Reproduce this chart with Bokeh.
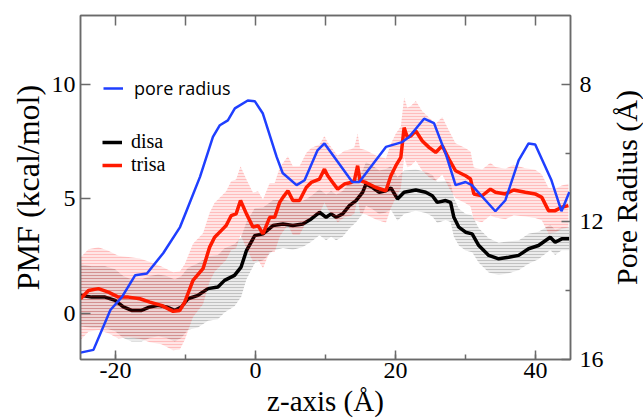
import numpy as np
from bokeh.plotting import figure
from bokeh.layouts import row
from bokeh.models import (Range1d, LinearAxis, SingleIntervalTicker, FixedTicker,
                          Legend, LegendItem, CustomJSTickFormatter)
from bokeh.embed import file_html
from bokeh.resources import INLINE

# ---------------- data ----------------
trisa_z = [-25.0, -23.86, -22.44, -21.02, -19.59, -18.17, -16.51, -15.09, -13.44, -11.77,
           -10.82, -10.11, -8.93, -7.50, -6.55, -5.84, -4.90, -4.19, -3.48, -2.77,
           -2.14, -1.29, -0.35, 0.36, 1.07, 2.03, 2.74, 3.45, 3.92, 4.63,
           5.34, 6.29, 7.25, 7.96, 9.14, 9.85, 10.32, 11.03, 11.74, 12.70,
           13.65, 14.12, 14.59, 14.93, 15.78, 17.21, 18.63, 19.34, 20.05, 20.76,
           21.23, 21.70, 22.18, 22.90, 23.83, 24.79, 25.74, 26.68, 27.63, 28.58,
           30.01, 30.72, 31.19, 32.37, 33.56, 34.27, 35.70, 36.88, 38.54, 39.96,
           40.90, 41.86, 42.81, 43.75, 44.70]
trisa_pmf = [0.65, 1.01, 1.09, 0.94, 0.72, 0.72, 0.65, 0.50, 0.36, 0.10,
             0.14, 0.50, 1.45, 1.96, 2.90, 3.33, 3.62, 3.84, 4.27, 4.35,
             4.93, 4.35, 3.77, 3.84, 3.48, 4.20, 4.20, 4.85, 5.07, 5.36,
             4.93, 4.93, 5.50, 5.72, 5.87, 6.30, 6.01, 5.72, 5.43, 5.65,
             5.72, 5.80, 6.45, 5.80, 5.72, 5.50, 5.36, 6.01, 6.45, 6.81,
             8.11, 7.68, 7.75, 7.97, 7.53, 7.25, 7.03, 7.32, 6.74, 6.23,
             6.01, 5.87, 5.22, 5.14, 5.43, 5.29, 5.22, 5.39, 5.29, 5.22,
             5.07, 4.49, 4.49, 4.64, 4.71]
trisa_err = [1.8, 1.8, 1.8, 1.8, 1.8, 1.75, 1.75, 1.75, 1.7, 1.7,
             1.7, 1.65, 1.6, 1.55, 1.5, 1.5, 1.5, 1.5, 1.5, 1.5,
             1.5, 1.5, 1.5, 1.5, 1.5, 1.5, 1.5, 1.5, 1.5, 1.5,
             1.5, 1.5, 1.5, 1.5, 1.5, 1.45, 1.45, 1.45, 1.45, 1.45,
             1.45, 1.45, 1.4, 1.4, 1.4, 1.4, 1.4, 1.4, 1.4, 1.35,
             1.3, 1.3, 1.3, 1.3, 1.3, 1.3, 1.25, 1.25, 1.25, 1.2,
             1.2, 1.2, 1.15, 1.15, 1.15, 1.1, 1.1, 1.1, 1.05, 1.05,
             1.0, 1.0, 0.95, 0.95, 0.95]

disa_z = [-25.0, -23.39, -21.49, -20.06, -18.88, -17.70, -16.28, -15.09, -13.90, -12.72,
          -11.53, -10.59, -9.64, -8.21, -6.79, -5.37, -4.42, -3.0, -2.06, -1.29,
          -0.11, 1.07, 2.50, 3.92, 5.34, 6.76, 7.96, 9.14, 10.09, 10.80,
          11.52, 12.45, 13.41, 14.36, 15.30, 15.78, 16.72, 17.67, 18.63, 19.34,
          20.28, 21.23, 22.90, 24.32, 25.26, 25.97, 27.16, 27.87, 28.34, 29.05,
          30.01, 30.95, 31.90, 33.32, 34.74, 36.17, 37.59, 39.01, 40.43, 42.10,
          42.81, 43.75, 44.80]
disa_pmf = [0.80, 0.72, 0.72, 0.58, 0.29, 0.14, 0.14, 0.29, 0.36, 0.29,
            0.14, 0.29, 0.65, 0.80, 1.09, 1.16, 1.45, 1.67, 2.03, 2.75,
            3.40, 3.48, 3.84, 3.91, 3.84, 3.91, 4.13, 4.42, 4.20, 4.35,
            4.20, 4.35, 4.71, 4.93, 5.29, 5.65, 5.50, 5.29, 5.36, 5.48,
            5.00, 5.29, 5.39, 5.29, 5.14, 4.85, 4.93, 4.85, 4.20, 3.77,
            3.55, 3.48, 2.97, 2.54, 2.39, 2.46, 2.54, 2.83, 2.97, 3.33,
            3.11, 3.26, 3.26]
disa_err = [1.35, 1.35, 1.35, 1.35, 1.35, 1.35, 1.35, 1.35, 1.35, 1.35,
            1.35, 1.35, 1.35, 1.4, 1.4, 1.4, 1.4, 1.35, 1.3, 1.25,
            1.2, 1.15, 1.1, 1.05, 1.05, 1.0, 1.0, 1.0, 1.0, 1.0,
            1.0, 1.0, 1.0, 0.95, 0.95, 0.95, 0.95, 0.95, 0.95, 0.95,
            0.95, 0.95, 0.9, 0.9, 0.9, 0.9, 0.85, 0.85, 0.85, 0.8,
            0.8, 0.8, 0.75, 0.75, 0.7, 0.7, 0.65, 0.65, 0.6, 0.55,
            0.55, 0.5, 0.5]

pore_z = [-25.0, -23.15, -20.73, -19.07, -17.18, -15.51, -13.19, -10.78, -9.82, -7.93,
          -6.08, -5.09, -3.95, -2.95, -1.10, -0.11, 1.03, 3.02, 3.88, 5.87,
          7.01, 8.86, 9.85, 13.83, 14.83, 18.63, 20.95, 21.94, 24.08, 25.50,
          27.16, 28.58, 30.01, 30.90, 34.27, 35.70, 37.59, 39.01, 39.96, 42.28,
          43.71, 44.84]
pore_r = [15.80, 15.72, 14.56, 14.18, 13.55, 13.50, 12.91, 12.15, 11.66, 10.69,
          9.53, 9.19, 9.05, 8.70, 8.47, 8.49, 8.84, 10.11, 10.58, 10.93,
          10.79, 9.92, 9.72, 10.84, 10.84, 9.82, 9.68, 9.53, 9.00, 9.13,
          10.01, 10.93, 10.84, 10.93, 11.69, 11.37, 10.21, 9.72, 9.75, 10.79,
          11.69, 11.13]

x_tick_interval = 20
pmf_tick_interval = 5
radius_ticks = [8, 12, 16]
radius_minor_ticks = [10, 14]

# ---------------- figure ----------------
SERIF = "Liberation Serif"
AX = "#6a6a6a"
H = 419

p = figure(width=606, height=H, output_backend="svg", toolbar_location=None,
           x_range=Range1d(-25, 45), y_range=Range1d(-2, 13),
           min_border_left=80, min_border_right=34, min_border_top=15,
           min_border_bottom=60)
p.extra_y_ranges = {"radius": Range1d(start=16, end=6)}
p.grid.visible = False
p.outline_line_color = AX
p.outline_line_width = 1.5
p.background_fill_color = "white"
p.border_fill_color = "white"

tz, tp, te = np.array(trisa_z), np.array(trisa_pmf), np.array(trisa_err)
dz, dp, de = np.array(disa_z), np.array(disa_pmf), np.array(disa_err)

# disa band + line
p.varea(x=dz, y1=dp - de, y2=dp + de, fill_color="#000000", fill_alpha=0.08,
        hatch_pattern="horizontal_line", hatch_color="#000000", hatch_alpha=0.3,
        hatch_scale=3, hatch_weight=0.6)
disa_r = p.line(dz, dp, line_color="black", line_width=3.5)

# trisa band + line
p.varea(x=tz, y1=tp - te, y2=tp + te, fill_color="#ff0000", fill_alpha=0.10,
        hatch_pattern="horizontal_line", hatch_color="#ff2020", hatch_alpha=0.35,
        hatch_scale=3, hatch_weight=0.6)
trisa_r = p.line(tz, tp, line_color="#ff1a00", line_width=3.5)

# pore radius (right axis, inverted)
pore_line = p.line(pore_z, pore_r, y_range_name="radius", line_color="#1f3fff",
                   line_width=2.5)

# ---------------- axes ----------------
def style_axis(ax):
    ax.axis_line_color = AX
    ax.axis_line_width = 1.5
    ax.major_tick_line_color = AX
    ax.minor_tick_line_color = AX
    ax.major_tick_line_width = 1.5
    ax.minor_tick_line_width = 1.5
    ax.major_tick_in = 9
    ax.major_tick_out = 0
    ax.minor_tick_in = 5
    ax.minor_tick_out = 0
    ax.major_label_text_font = SERIF
    ax.major_label_text_font_size = "24px"
    ax.major_label_text_color = "black"
    ax.axis_label_text_font = SERIF
    ax.axis_label_text_font_style = "normal"
    ax.axis_label_text_color = "black"

xa = p.xaxis[0]
xa.ticker = SingleIntervalTicker(interval=x_tick_interval, num_minor_ticks=2)
style_axis(xa)
xa.formatter = CustomJSTickFormatter(code="return tick.toString();")
xa.major_label_standoff = 3
xa.axis_label = "z-axis (Å)"
xa.axis_label_text_font_size = "29px"
xa.axis_label_standoff = 4

ya = p.yaxis[0]
ya.ticker = SingleIntervalTicker(interval=pmf_tick_interval, num_minor_ticks=0)
style_axis(ya)
ya.major_tick_in = 10
ya.major_label_standoff = 5
ya.axis_label = "PMF (kcal/mol)"
ya.axis_label_text_font_size = "32px"
ya.axis_label_standoff = 3

ra = LinearAxis(y_range_name="radius",
                ticker=FixedTicker(ticks=radius_ticks, minor_ticks=radius_minor_ticks))
style_axis(ra)
ra.major_label_standoff = 9
p.add_layout(ra, "right")

ta = LinearAxis(ticker=SingleIntervalTicker(interval=10, num_minor_ticks=0),
                formatter=CustomJSTickFormatter(code="return '';"))
style_axis(ta)
ta.major_tick_in = 10
ta.major_label_standoff = 0
p.add_layout(ta, "above")

# ---------------- legends ----------------
leg1 = Legend(items=[LegendItem(label="pore radius", renderers=[pore_line])],
              location=(23, 259))
leg2 = Legend(items=[LegendItem(label="disa", renderers=[disa_r]),
                     LegendItem(label="trisa", renderers=[trisa_r])],
              location=(22, 183))
for lg, font, size, standoff in ((leg1, "Open Sans", "18px", 11),
                                 (leg2, SERIF, "20px", 9)):
    lg.label_text_font = font
    lg.label_text_font_size = size
    lg.label_text_color = "black"
    lg.glyph_width = 20
    lg.glyph_height = 20
    lg.label_height = 20
    lg.label_standoff = standoff
    lg.padding = 0
    lg.margin = 0
    lg.spacing = 0
    lg.border_line_alpha = 0
    lg.background_fill_alpha = 0
    p.add_layout(lg)

# ---------------- right-hand axis title (reads bottom-to-top) ----------------
p2 = figure(width=37, height=H, output_backend="svg", toolbar_location=None,
            x_range=Range1d(0, 1), y_range=Range1d(0, 1),
            min_border_left=36, min_border_right=0, min_border_top=15,
            min_border_bottom=60)
p2.outline_line_color = None
p2.grid.visible = False
p2.xaxis.visible = False
p2.background_fill_color = "white"
p2.border_fill_color = "white"
ya2 = p2.yaxis[0]
ya2.ticker = FixedTicker(ticks=[])
ya2.axis_line_color = None
ya2.major_tick_line_color = None
ya2.minor_tick_line_color = None
ya2.major_tick_in = 0
ya2.major_tick_out = 0
ya2.major_label_standoff = 0
ya2.axis_label = "Pore Radius (Å)"
ya2.axis_label_text_font = SERIF
ya2.axis_label_text_font_size = "30px"
ya2.axis_label_text_font_style = "normal"
ya2.axis_label_text_color = "black"
ya2.axis_label_standoff = 1

layout = row(p, p2)
open("out.html", "w").write(file_html(layout, INLINE))
